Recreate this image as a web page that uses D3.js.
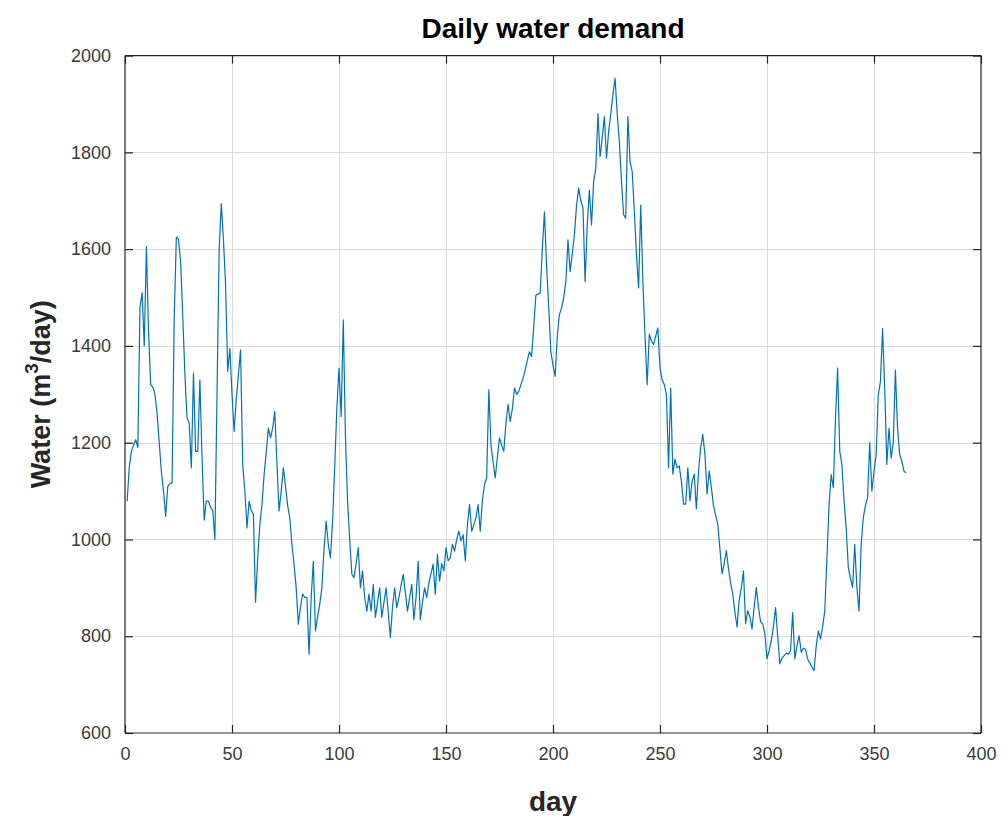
<!DOCTYPE html>
<html>
<head>
<meta charset="utf-8">
<script src="https://cdn.jsdelivr.net/npm/d3@7"></script>
<style>
  html, body { margin: 0; padding: 0; background: #fff; }
  svg { display: block; }
</style>
</head>
<body>
<div id="chart"></div>
<script>
// ---- Data ----
const titleText = "Daily water demand";
const xLabel = "day";
const xTicks = [0, 50, 100, 150, 200, 250, 300, 350, 400];
const yTicks = [600, 800, 1000, 1200, 1400, 1600, 1800, 2000];
const xDomain = [0, 400];
const yDomain = [600, 2000];
const demand = [
  1079,1150,1182,1195,1206,1190,1480,1510,1400,1605,
  1430,1320,1315,1300,1260,1200,1140,1100,1048,1110,
  1115,1117,1460,1625,1620,1574,1460,1340,1251,1240,
  1148,1344,1182,1182,1330,1169,1040,1080,1079,1066,
  1060,1000,1300,1600,1694,1620,1526,1347,1395,1300,
  1223,1290,1340,1392,1155,1100,1024,1079,1060,1052,
  870,960,1030,1072,1134,1180,1230,1210,1230,1265,
  1155,1059,1100,1148,1110,1070,1045,990,949,900,
  825,860,887,880,880,763,880,955,811,840,
  866,900,980,1038,990,962,1038,1150,1272,1354,
  1254,1454,1217,1079,1000,928,921,950,983,900,
  935,880,852,887,852,907,839,870,900,839,
  870,900,850,797,860,900,859,880,905,928,
  890,852,880,907,834,880,955,834,870,900,
  880,910,930,949,887,969,914,950,935,983,
  956,962,990,976,1000,1017,997,1010,956,1030,
  1072,1017,1030,1045,1072,1017,1080,1114,1127,1309,
  1196,1160,1127,1170,1210,1195,1182,1240,1279,1244,
  1270,1313,1300,1306,1320,1333,1350,1370,1388,1378,
  1440,1505,1507,1509,1600,1677,1567,1480,1388,1360,
  1337,1420,1465,1478,1500,1533,1619,1554,1590,1630,
  1690,1726,1700,1685,1533,1650,1722,1650,1740,1767,
  1880,1791,1830,1874,1788,1843,1880,1920,1953,1880,
  1822,1740,1671,1664,1874,1781,1760,1680,1588,1520,
  1691,1533,1420,1320,1424,1410,1403,1420,1437,1355,
  1330,1320,1300,1148,1313,1135,1166,1148,1152,1120,
  1073,1073,1148,1080,1120,1135,1063,1140,1190,1217,
  1176,1094,1142,1107,1070,1050,1032,980,929,950,
  977,940,910,887,850,819,874,900,935,826,
  853,840,815,860,901,860,830,826,805,753,
  770,791,820,859,800,743,755,760,765,763,
  770,849,753,780,801,767,775,773,753,745,
  736,729,780,811,794,820,853,960,1072,1134,
  1107,1251,1354,1182,1155,1080,1024,942,920,901,
  990,900,852,990,1045,1070,1086,1200,1100,1140,
  1175,1299,1326,1436,1313,1155,1230,1168,1200,1350,
  1230,1175,1162,1141,1138
];
const days = demand.map((_, i) => i + 1);

// ---- Layout ----
const W = 1008, H = 816;
const m = { left: 125, right: 981, top: 55.6, bottom: 733 };
const axisColor = "#262626";
const font = "'Liberation Sans', Arial, Helvetica, sans-serif";

const svg = d3.select("#chart").append("svg")
  .attr("width", W).attr("height", H)
  .style("font-family", font);

const x = d3.scaleLinear().domain(xDomain).range([m.left, m.right]);
const y = d3.scaleLinear().domain(yDomain).range([m.bottom, m.top]);

// Grid
const grid = svg.append("g").attr("stroke", "#dadada").attr("stroke-width", 1);
grid.selectAll("line.gx").data(xTicks.slice(1, -1)).join("line")
  .attr("x1", d => Math.round(x(d)) + 0.5).attr("x2", d => Math.round(x(d)) + 0.5)
  .attr("y1", m.top).attr("y2", m.bottom);
grid.selectAll("line.gy").data(yTicks.slice(1, -1)).join("line")
  .attr("y1", d => Math.round(y(d)) + 0.5).attr("y2", d => Math.round(y(d)) + 0.5)
  .attr("x1", m.left).attr("x2", m.right);

// Data line
const line = d3.line().x((d, i) => x(days[i])).y(d => y(d));
svg.append("path").datum(demand)
  .attr("fill", "none")
  .attr("stroke", "#0072BD")
  .attr("stroke-width", 1.2)
  .attr("stroke-linejoin", "round")
  .attr("d", line);

// Axes (ticks inward, box on)
const tickLen = 8;
const xb = svg.append("g").attr("transform", `translate(0,${m.bottom})`)
  .call(d3.axisBottom(x).tickValues(xTicks).tickSize(-tickLen).tickPadding(14).tickFormat(d3.format("d")));
const xt = svg.append("g").attr("transform", `translate(0,${m.top})`)
  .call(d3.axisTop(x).tickValues(xTicks).tickSize(-tickLen).tickFormat(""));
const yl = svg.append("g").attr("transform", `translate(${m.left},0)`)
  .call(d3.axisLeft(y).tickValues(yTicks).tickSize(-tickLen).tickPadding(14).tickFormat(d3.format("d")));
const yr = svg.append("g").attr("transform", `translate(${m.right},0)`)
  .call(d3.axisRight(y).tickValues(yTicks).tickSize(-tickLen).tickFormat(""));

[xb, xt, yl, yr].forEach(g => {
  g.selectAll(".domain").attr("stroke", axisColor).attr("stroke-width", 1.2);
  g.selectAll(".tick line").attr("stroke", axisColor).attr("stroke-width", 1.2);
  g.selectAll(".tick text").attr("fill", "#3a3a3a")
    .style("font-size", "18px").style("font-family", font);
});
[xb, xt].forEach(g => g.select(".domain").attr("d", `M${m.left},0H${m.right}`));
[yl, yr].forEach(g => g.select(".domain").attr("d", `M0,${m.top}V${m.bottom}`));

// Title
svg.append("text")
  .attr("x", (m.left + m.right) / 2).attr("y", 38)
  .attr("text-anchor", "middle")
  .style("font-size", "28px").style("font-weight", "bold").attr("fill", "#000")
  .text(titleText);

// X label
svg.append("text")
  .attr("x", (m.left + m.right) / 2).attr("y", 811)
  .attr("text-anchor", "middle")
  .style("font-size", "28px").style("font-weight", "bold").attr("fill", "#262626")
  .text(xLabel);

// Y label with superscript
const ylab = svg.append("text")
  .attr("transform", `translate(50,${(m.top + m.bottom) / 2}) rotate(-90)`)
  .attr("text-anchor", "middle")
  .style("font-size", "27px").style("font-weight", "bold").attr("fill", "#262626");
ylab.append("tspan").text("Water (m");
ylab.append("tspan").attr("dy", -12).style("font-size", "19px").text("3");
ylab.append("tspan").attr("dy", 12).text("/day)");
</script>
</body>
</html>
